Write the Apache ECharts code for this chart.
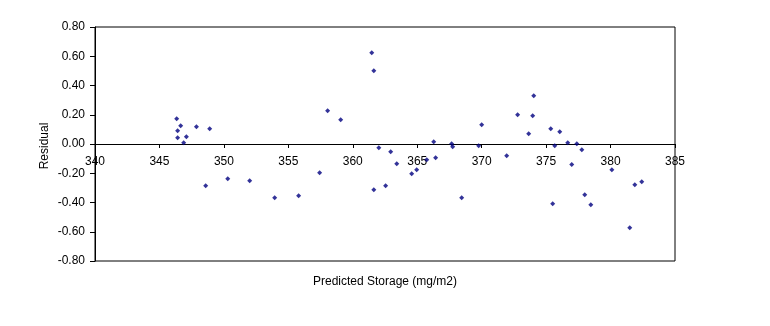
<!DOCTYPE html>
<html>
<head>
<meta charset="utf-8">
<style>
  html, body { margin: 0; padding: 0; background: #fff; }
  #chart { width: 770px; height: 326px; }
</style>
<script src="https://cdn.jsdelivr.net/npm/echarts@6/dist/echarts.min.js"></script>
</head>
<body>
<div id="chart"></div>
<script>
// Predicted storage (mg/m2) for each observation
const predicted = [
  346.34, 346.65, 346.41, 346.41, 347.09, 346.88, 347.87, 348.90,
  348.59, 350.30, 352.00, 353.94,
  355.80, 357.43, 358.05, 359.06, 361.47, 361.63, 361.63, 362.02,
  362.55, 362.94, 363.41, 364.57, 364.96, 365.74, 366.28, 366.43,
  367.67, 367.75, 368.45, 369.77,
  370.00, 371.94, 372.79, 373.65, 373.96, 374.04, 375.36, 375.51,
  375.67, 376.06, 376.68, 376.99, 377.38, 377.77, 378.00, 378.47,
  380.10, 381.49, 381.88, 382.42
];

// Residual for each observation (same order)
const residual = [
  0.173, 0.125, 0.091, 0.043, 0.050, 0.009, 0.118, 0.105,
  -0.285, -0.237, -0.251, -0.367,
  -0.354, -0.196, 0.228, 0.166, 0.624, 0.501, -0.312, -0.025,
  -0.285, -0.053, -0.135, -0.203, -0.176, -0.107, 0.016, -0.094,
  0.002, -0.018, -0.367, -0.012,
  0.131, -0.080, 0.200, 0.070, 0.193, 0.330, 0.105, -0.408,
  -0.012, 0.084, 0.009, -0.141, 0.002, -0.039, -0.347, -0.415,
  -0.176, -0.572, -0.278, -0.258
];

const xTitle = 'Predicted Storage (mg/m2)';
const yTitle = 'Residual';

const points = predicted.map((x, i) => [x, residual[i]]);

const font = 'Liberation Sans, Arial, sans-serif';
const gridTop = 27, gridBottom = 65, chartH = 326;
const chart = echarts.init(document.getElementById('chart'), null, { renderer: 'canvas' });

chart.setOption({
  animation: false,
  backgroundColor: '#ffffff',
  grid: {
    left: 95, right: 95, top: gridTop, bottom: gridBottom,
    show: true, borderColor: '#000', borderWidth: 1,
    backgroundColor: 'transparent'
  },
  xAxis: {
    type: 'value',
    position: 'bottom',
    min: 340, max: 385, interval: 5,
    axisLine: { show: true, onZero: false, lineStyle: { color: '#000', width: 1 } },
    axisTick: { show: true, length: 4, lineStyle: { color: '#000' } },
    axisLabel: { color: '#000', fontFamily: font, fontSize: 12, margin: 12 },
    splitLine: { show: false }
  },
  yAxis: {
    type: 'value',
    min: -0.8, max: 0.8, interval: 0.2,
    axisLine: { show: true, onZero: false, lineStyle: { color: '#000', width: 1 } },
    axisTick: { show: true, length: 5, lineStyle: { color: '#000' } },
    axisLabel: {
      color: '#000', fontFamily: font, fontSize: 12, margin: 10,
      formatter: v => v.toFixed(2)
    },
    splitLine: { show: false }
  },
  graphic: [
    {
      type: 'text',
      left: 'center',
      top: 276,
      style: { text: xTitle, fill: '#000', font: '12px ' + font }
    },
    {
      type: 'text',
      x: 45, y: 146,
      rotation: Math.PI / 2,
      style: {
        text: yTitle, fill: '#000', font: '12px ' + font,
        align: 'center', verticalAlign: 'middle'
      }
    }
  ],
  series: [{
    type: 'scatter',
    data: points,
    symbol: 'diamond',
    symbolSize: 5,
    itemStyle: { color: '#000080' }
  }]
});

// Lift the x axis (line, ticks and labels) up to the zero residual line.
const zeroY = chart.convertToPixel({ yAxisIndex: 0 }, 0);
const bottomY = chartH - gridBottom;
chart.setOption({ xAxis: { offset: zeroY - bottomY } });
</script>
</body>
</html>
